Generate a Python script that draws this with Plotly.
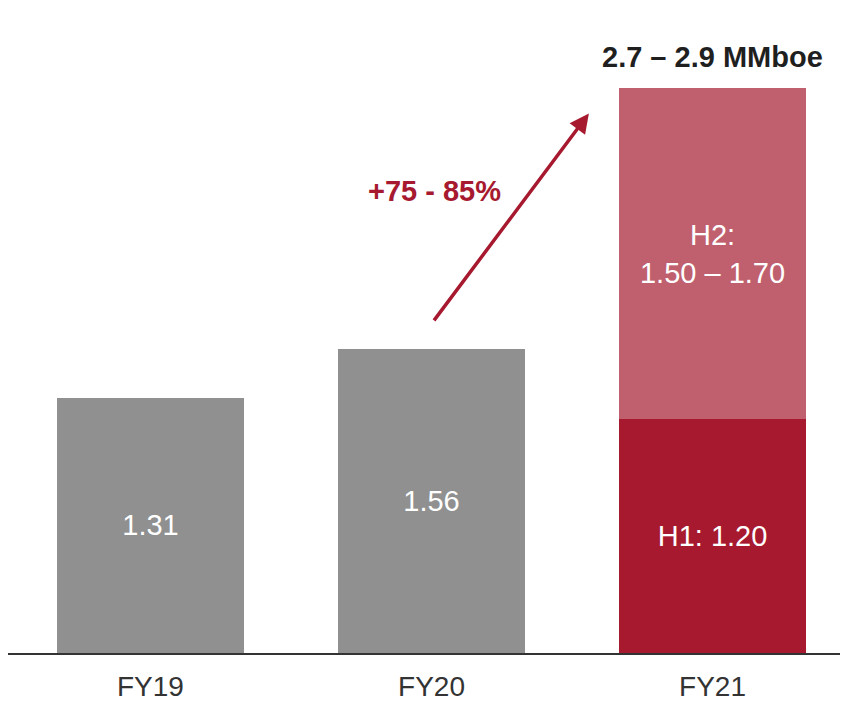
"""Production guidance bar chart: FY19-FY21 (MMboe)."""

import plotly.graph_objects as go

CATEGORIES = ["FY19", "FY20", "FY21"]
ACTUAL = [1.31, 1.56, None]
H1 = [None, None, 1.20]
H2 = [None, None, 1.70]
ACTUAL_TEXT = ["1.31", "1.56", ""]
H1_TEXT = ["", "", "H1: 1.20"]
H2_TEXT = ["", "", "H2:<br>1.50 – 1.70"]
GUIDANCE_LABEL = "2.7 – 2.9 MMboe"
GROWTH_LABEL = "+75 - 85%"

GRAY = "#8f908f"
DARK_RED = "#a6192e"
LIGHT_RED = "#c0606e"
INK = "#333333"
FONT = "Liberation Sans, Arial, sans-serif"

fig = go.Figure()

bar_common = dict(
    width=0.665,
    textposition="inside",
    insidetextanchor="middle",
    textfont=dict(color="white", size=29, family=FONT),
    hoverinfo="skip",
)

fig.add_trace(go.Bar(x=CATEGORIES, y=ACTUAL, text=ACTUAL_TEXT,
                     marker=dict(color=GRAY, line=dict(width=0)), **bar_common))
fig.add_trace(go.Bar(x=CATEGORIES, y=H1, text=H1_TEXT,
                     marker=dict(color=DARK_RED, line=dict(width=0)), **bar_common))
fig.add_trace(go.Bar(x=CATEGORIES, y=H2, text=H2_TEXT,
                     marker=dict(color=LIGHT_RED, line=dict(width=0)), **bar_common))

total_fy21 = H1[2] + H2[2]

# guidance label over the FY21 stack
fig.add_annotation(
    x="FY21", y=total_fy21, text=f"<b>{GUIDANCE_LABEL}</b>",
    showarrow=False, yanchor="bottom", yshift=13,
    font=dict(size=29, color="#1f1f1f", family=FONT),
)

# growth arrow from FY20 towards FY21
fig.add_annotation(
    x=1.56, y=2.77, ax=1.005, ay=1.70,
    xref="x", yref="y", axref="x", ayref="y",
    text="", showarrow=True,
    arrowhead=2, arrowsize=1.1, arrowwidth=3.5, arrowcolor=DARK_RED,
)
fig.add_annotation(
    x=1.01, y=2.37, text=f"<b>{GROWTH_LABEL}</b>", showarrow=False,
    font=dict(size=29, color=DARK_RED, family=FONT),
)

# page body adds an 8px offset, so the figure is sized 840x694
fig.update_layout(
    width=840, height=694,
    barmode="stack",
    showlegend=False,
    paper_bgcolor="white",
    plot_bgcolor="white",
    margin=dict(l=0, r=0, t=12, b=47),
    font=dict(family=FONT, color=INK),
    xaxis=dict(
        type="category",
        range=[-0.507, 2.482],
        showline=True, linecolor=INK, linewidth=2,
        showgrid=False, zeroline=False, ticks="",
        ticklabelstandoff=7,
        tickfont=dict(size=28, color=INK, family=FONT),
    ),
    yaxis=dict(
        range=[0, 3.25],
        visible=False,
        showgrid=False, zeroline=False,
    ),
)

fig.write_html("out.html")
